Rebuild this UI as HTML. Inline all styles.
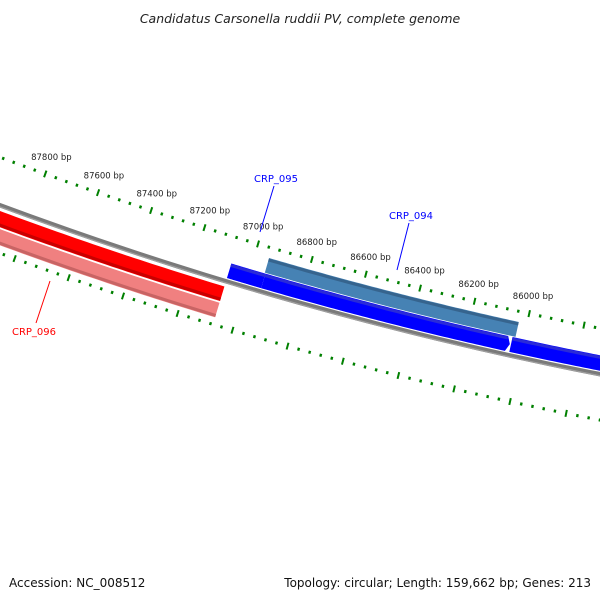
<!DOCTYPE html>
<html><head><meta charset="utf-8"><style>
html,body{margin:0;padding:0;background:#fff;}
svg{display:block;font-family:"DejaVu Sans","Liberation Sans",sans-serif;}
</style></head><body>
<svg id="map" width="600" height="600" viewBox="0 0 600 600" xmlns="http://www.w3.org/2000/svg">
<rect width="600" height="600" fill="#fff"/>
<text x="300" y="23" text-anchor="middle" font-size="12.5" font-style="italic" fill="#222">Candidatus Carsonella ruddii PV, complete genome</text>
<g id="layer"></g>
<text x="9" y="587" font-size="12" fill="#111">Accession: NC_008512</text>
<text x="591" y="587" text-anchor="end" font-size="12" fill="#111">Topology: circular; Length: 159,662 bp; Genes: 213</text>
</svg>
<script>
// data
const featNames = ["CRP_096","CRP_096-track2","CRP_095","CRP_094","CRP_094-track2","CRP_093"];
const featStart = [88400, 88400, 87071, 86945, 86948, 86040];
const featEnd   = [87071, 87071, 86945, 86044, 86030, 85400];
const featColor = ["#ff0000","#f08080","#0000ff","#0000ff","#4682b4","#0000ff"];
const featLane  = [13, 30, -11, -11, -27, -11];
const featArrow = [false, false, false, true, false, true];
const tickLabels = [87800,87600,87400,87200,87000,86800,86600,86400,86200,86000];

const NS="http://www.w3.org/2000/svg";
const layer=document.getElementById('layer');
const CX=1340, CY=-3404, R0=3850;
const A0=106.52*Math.PI/180, K=7.36e-5;
function ang(bp){return A0+(bp-87000)*K;}
function pt(bp,r){const a=ang(bp);return [CX+r*Math.cos(a),CY+r*Math.sin(a)];}
function arcPts(b1,b2,r){const p=[];const n=60;for(let i=0;i<=n;i++){p.push(pt(b1+(b2-b1)*i/n,r));}return p;}
function mk(tag){return document.createElementNS(NS,tag);}
function polyStr(p){return p.map(q=>q[0].toFixed(2)+','+q[1].toFixed(2)).join(' ');}

// backbone
const bb=mk('polyline');


bb.setAttribute('points',polyStr(arcPts(85400,88400,R0)));
bb.setAttribute('fill','none');bb.setAttribute('stroke','#7a7a7a');bb.setAttribute('stroke-width','4.5');
layer.appendChild(bb);
const bb2=mk('polyline');


bb2.setAttribute('points',polyStr(arcPts(85400,88400,R0+1.5)));
bb2.setAttribute('fill','none');bb2.setAttribute('stroke','#a0a0a0');bb2.setAttribute('stroke-width','1.2');
layer.appendChild(bb2);

// features
function shade(c){const m={"#ff0000":"#c80000","#f08080":"#c86464","#0000ff":"#2a2ad8","#4682b4":"#36648e"};return m[c]||c;}
for(let i=0;i<featNames.length;i++){
  const r=R0+featLane[i], h=7.6;
  const s=featStart[i], e=featEnd[i];
  const dir=e>s?1:-1;
  const eb=featArrow[i]? e-dir*12 : e;
  const outer=arcPts(s,eb,r+h), inner=arcPts(eb,s,r-h);
  let pts=outer.slice();
  if(featArrow[i]) pts.push(pt(e,r));
  pts=pts.concat(inner);
  const g=mk('polygon');
  
  
  g.setAttribute('points',polyStr(pts));
  g.setAttribute('fill',featColor[i]);
  layer.appendChild(g);
  const sh=mk('polyline');
  
  
  const sr = featLane[i]>0 ? r+h-2 : r-h+2;
  sh.setAttribute('points',polyStr(arcPts(s,eb,sr)));
  sh.setAttribute('fill','none');sh.setAttribute('stroke',shade(featColor[i]));sh.setAttribute('stroke-width','3');
  layer.appendChild(sh);
}

// rulers
const rulerR=[3805,3895];
for(let ri=0;ri<rulerR.length;ri++){
  const rr=rulerR[ri];
  for(let bp=85600;bp<=88400;bp+=40){
    const major=(bp%200===0);
    const len=major?7:3;
    const a=pt(bp,rr-len/2), b=pt(bp,rr+len/2);
    const t=mk('line');
    
    
    t.setAttribute('x1',a[0]);t.setAttribute('y1',a[1]);t.setAttribute('x2',b[0]);t.setAttribute('y2',b[1]);
    t.setAttribute('stroke','#008000');t.setAttribute('stroke-width',major?'2':'2.4');
    layer.appendChild(t);
  }
}
for(const bp of tickLabels){
  const p=pt(bp,3805-18);
  const t=mk('text');
  
  
  t.setAttribute('x',p[0]);t.setAttribute('y',p[1]+3);
  t.setAttribute('text-anchor','middle');t.setAttribute('font-size','8.5');t.setAttribute('fill','#222');
  t.textContent=bp+' bp';
  layer.appendChild(t);
}

// callouts
const callouts=[["CRP_095",276,182,274,186,260,232,"#0000ff"],["CRP_094",411,219,409,223,397,270,"#0000ff"],["CRP_096",34,335,36,323,50,281,"#ff0000"]];
for(const c of callouts){
  const l=mk('line');
  
  
  l.setAttribute('x1',c[3]);l.setAttribute('y1',c[4]);l.setAttribute('x2',c[5]);l.setAttribute('y2',c[6]);
  l.setAttribute('stroke',c[7]);l.setAttribute('stroke-width','1');
  layer.appendChild(l);
  const t=mk('text');
  
  
  t.setAttribute('x',c[1]);t.setAttribute('y',c[2]);t.setAttribute('text-anchor','middle');
  t.setAttribute('font-size','10');t.setAttribute('fill',c[7]);
  t.textContent=c[0];
  layer.appendChild(t);
}
</script>
</body></html>
